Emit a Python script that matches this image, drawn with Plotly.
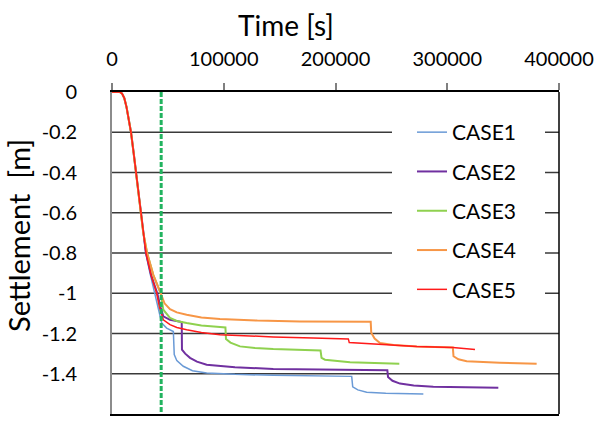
import plotly.graph_objects as go

# ---------------- data ----------------
x_ticks = [0, 100000, 200000, 300000, 400000]
y_ticks = [0, -0.2, -0.4, -0.6, -0.8, -1.0, -1.2, -1.4, -1.6]
y_tick_labels = ["0", "-0.2", "-0.4", "-0.6", "-0.8", "-1", "-1.2", "-1.4", "-1.6"]

start_t = [0, 7000, 9000, 11000, 13000, 15000, 17000, 19300, 21500, 23600, 25700, 28000]
start_s = [0, 0, -0.008, -0.03, -0.075, -0.13, -0.20, -0.30, -0.40, -0.50, -0.60, -0.70]

case1_t = start_t + [30200, 34000, 38500, 41500, 44500, 48900, 54900, 55700, 58000, 63800,
                     72000, 84700, 110000, 144300, 180000, 214500, 215400, 220000, 227900,
                     245000, 278600]
case1_s = start_s + [-0.80, -0.90, -1.00, -1.08, -1.148, -1.173, -1.19, -1.305, -1.335, -1.363,
                     -1.385, -1.396, -1.403, -1.408, -1.411, -1.413, -1.465, -1.480, -1.492,
                     -1.497, -1.50]

case2_t = start_t + [30400, 35000, 40500, 43500, 45900, 51900, 62400, 62600, 65500, 69800,
                     76000, 84700, 110000, 144300, 180000, 221900, 246400, 247000, 251000,
                     257700, 270000, 287500, 315000, 345700]
case2_s = start_s + [-0.80, -0.91, -1.00, -1.07, -1.115, -1.132, -1.143, -1.28, -1.30, -1.321,
                     -1.34, -1.355, -1.368, -1.376, -1.379, -1.381, -1.383, -1.416, -1.435,
                     -1.449, -1.458, -1.465, -1.468, -1.47]

case3_t = start_t + [31400, 37000, 43600, 45900, 51900, 58000, 66800, 80000, 96600, 101500,
                     102000, 106000, 114500, 128000, 144300, 165000, 186600, 187500, 190600,
                     204000, 213000, 235000, 257100]
case3_s = start_s + [-0.80, -0.91, -1.00, -1.082, -1.123, -1.138, -1.148, -1.16, -1.168, -1.17,
                     -1.227, -1.245, -1.264, -1.272, -1.277, -1.281, -1.284, -1.321, -1.33,
                     -1.338, -1.343, -1.347, -1.35]

case4_t = start_t + [31400, 37000, 43600, 47000, 51900, 58000, 66800, 80000, 96600, 130000,
                     168200, 200000, 231500, 232000, 235000, 239800, 252000, 272700, 305000,
                     305600, 310000, 317400, 330000, 347000, 380000]
case4_s = start_s + [-0.80, -0.91, -1.00, -1.05, -1.079, -1.095, -1.107, -1.12, -1.128, -1.136,
                     -1.14, -1.141, -1.142, -1.196, -1.225, -1.247, -1.257, -1.264, -1.27,
                     -1.313, -1.328, -1.338, -1.342, -1.345, -1.35]

case5_t = start_t + [30400, 35000, 40000, 42500, 45900, 51900, 58000, 66800, 80000, 96600,
                     120000, 144300, 180000, 211500, 212300, 240000, 272700, 305000, 324800]
case5_s = start_s + [-0.80, -0.91, -1.00, -1.07, -1.132, -1.156, -1.17, -1.181, -1.195, -1.206,
                     -1.212, -1.217, -1.222, -1.227, -1.245, -1.255, -1.264, -1.27, -1.28]

case_names = ["CASE1", "CASE2", "CASE3", "CASE4", "CASE5"]
case_colors = ["#6a9ad6", "#7030a0", "#8fd14f", "#f79646", "#ff1a1a"]
case_widths = [1.5, 2, 2, 2, 1.5]

marker_time = 44000
marker_s = [0, -1.6]

# ---------------- figure ----------------
FONT = "Lato, 'Open Sans', sans-serif"
fig = go.Figure()

series = [(case1_t, case1_s), (case2_t, case2_s), (case3_t, case3_s),
          (case4_t, case4_s), (case5_t, case5_s)]
for i, (t, s) in enumerate(series):
    fig.add_trace(go.Scatter(
        x=t, y=s, mode="lines", name=case_names[i], legendgroup=case_names[i],
        line=dict(color=case_colors[i], width=case_widths[i])))

fig.add_trace(go.Scatter(
    x=[marker_time, marker_time], y=marker_s, mode="lines", showlegend=False,
    line=dict(color="#22b35f", width=3, dash="5px,2px")))

L, R, T, B = 112, 37, 92, 7
W, H = 596, 421
pw, ph = W - L - R, H - T - B
X_RANGE = [0, 400000]
Y_RANGE = [-1.6, 0]

def px(xp):
    return (xp - L) / pw

def py(yp):
    return (H - B - yp) / ph

def dx(xp):
    return X_RANGE[0] + px(xp) * (X_RANGE[1] - X_RANGE[0])

def dy(yp):
    return Y_RANGE[0] + py(yp) * (Y_RANGE[1] - Y_RANGE[0])

# gridlines (split around the legend box, as in the reference)
box_x0, box_x1 = dx(392), dx(545)
box_y0, box_y1 = dy(312), dy(113)
GRID = dict(color="#3a3a3a", width=1.5)
shapes = []
for v in y_ticks[1:-1]:
    if box_y0 <= v <= box_y1:
        shapes.append(dict(type="line", xref="x", yref="y", x0=X_RANGE[0], x1=box_x0,
                           y0=v, y1=v, line=GRID, layer="below"))
        shapes.append(dict(type="line", xref="paper", yref="y", x0=px(545), x1=1.0,
                           y0=v, y1=v, line=GRID, layer="above"))
    else:
        shapes.append(dict(type="line", xref="x", yref="y", x0=X_RANGE[0], x1=X_RANGE[1],
                           y0=v, y1=v, line=GRID, layer="below"))
shapes.append(dict(type="line", xref="paper", yref="paper", x0=1, x1=1, y0=0, y1=1,
                   line=dict(color="black", width=1.5)))

fig.update_layout(
    width=W, height=H,
    margin=dict(l=L, r=R, t=T, b=B, autoexpand=False),
    paper_bgcolor="white", plot_bgcolor="white",
    font=dict(family=FONT, color="black"),
    showlegend=True,
    legend=dict(
        x=px(412), y=py(112), xanchor="left", yanchor="top",
        bgcolor="rgba(0,0,0,0)", font=dict(size=21, family=FONT, color="black"),
        tracegroupgap=9, itemwidth=30),
    xaxis=dict(
        side="top", range=X_RANGE, tickvals=x_ticks,
        ticktext=[str(v) for v in x_ticks], automargin=False,
        ticks="outside", ticklen=7, tickcolor="#808080", tickwidth=1.5,
        ticklabelstandoff=9,
        tickfont=dict(size=20, family=FONT, color="black"),
        showgrid=False, zeroline=False,
        showline=True, linecolor="black", linewidth=2, mirror=True),
    yaxis=dict(
        range=Y_RANGE, tickvals=y_ticks, ticktext=y_tick_labels, automargin=False,
        ticks="", tickfont=dict(size=20, family=FONT, color="black"),
        ticklabelstandoff=29,
        showgrid=False,
        zeroline=False, showline=True, linecolor="#8c8c8c", linewidth=2),
    shapes=shapes,
    annotations=[
        dict(text="Time [s]", xref="paper", yref="paper", x=px(286), y=py(25),
             xanchor="center", yanchor="middle", showarrow=False,
             font=dict(size=28, family=FONT, color="black")),
        dict(text="Settlement  [m]", xref="paper", yref="paper", x=px(18), y=py(236),
             xanchor="center", yanchor="middle", showarrow=False, textangle=-90,
             font=dict(size=29, family=FONT, color="black")),
    ],
)

fig.write_html("out.html")
